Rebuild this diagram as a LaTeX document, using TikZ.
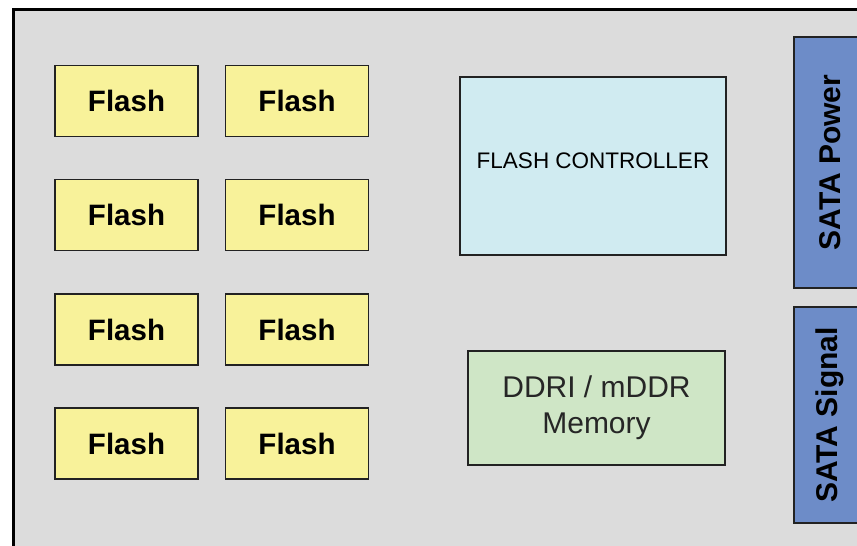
\documentclass[tikz,border=0pt]{standalone}
\usepackage{fontspec}
\setmainfont{Liberation Sans}
\definecolor{bggray}{HTML}{DCDCDC}
\definecolor{flashyellow}{HTML}{F8F29A}
\definecolor{ctrlblue}{HTML}{D0EBF1}
\definecolor{memgreen}{HTML}{CFE6C6}
\definecolor{satablue}{HTML}{6D8CC8}
\definecolor{edgegray}{HTML}{222222}
\begin{document}
\begin{tikzpicture}[x=1pt,y=-1pt,
  flashbox/.style={draw=edgegray,line width=1.5pt,fill=flashyellow,minimum width=143pt,minimum height=71pt,inner sep=0pt,font=\fontsize{29.5}{32}\selectfont\bfseries},
  ctrlbox/.style={draw=edgegray,line width=1.6pt,fill=ctrlblue,minimum width=266pt,minimum height=178pt,inner sep=0pt,font=\fontsize{22.5}{26}\selectfont},
  membox/.style={draw=edgegray,line width=1.3pt,fill=memgreen,minimum width=257pt,minimum height=114pt,inner sep=0pt,align=center,text=black!85,font=\fontsize{30}{36}\selectfont},
  satabox/.style={draw=edgegray,line width=1.3pt,fill=satablue,rotate=90,minimum height=72pt,inner sep=0pt,font=\fontsize{30}{32}\selectfont\bfseries}]
\useasboundingbox (0,0) rectangle (857,546);
\clip (0,0) rectangle (857,546);
\fill[white] (0,0) rectangle (857,546);
\draw[line width=3pt,fill=bggray] (13,9) rectangle (880,570);
\node[flashbox] (f11) at (126.5,101) {Flash};
\node[flashbox] (f12) at (297,101) {Flash};
\node[flashbox] (f21) at (126.5,215) {Flash};
\node[flashbox] (f22) at (297,215) {Flash};
\node[flashbox] (f31) at (126.5,329.5) {Flash};
\node[flashbox] (f32) at (297,329.5) {Flash};
\node[flashbox] (f41) at (126.5,443.5) {Flash};
\node[flashbox] (f42) at (297,443.5) {Flash};
\node[ctrlbox] (ctrl) at (593,166) {\raisebox{10pt}{FLASH CONTROLLER}};
\node[membox] (mem) at (596.5,408) {DDRI / mDDR\\Memory};
\node[satabox,minimum width=251pt] (power) at (830,162.5) {SATA Power};
\node[satabox,minimum width=216pt] (signal) at (830,415) {SATA Signal};
\end{tikzpicture}
\end{document}
